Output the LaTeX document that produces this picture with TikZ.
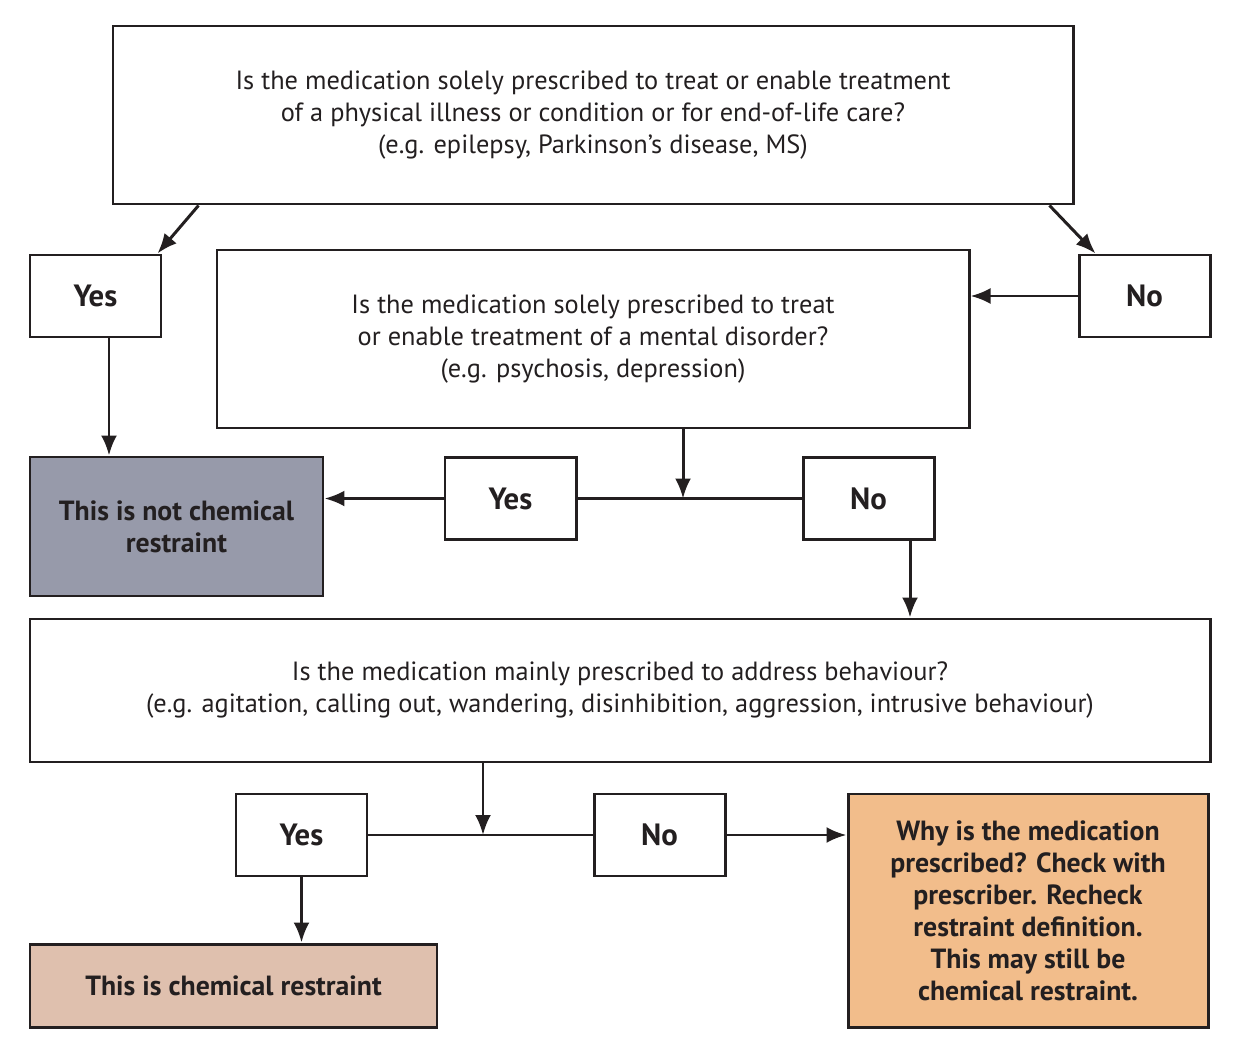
\documentclass[tikz,border=0pt]{standalone}
\usepackage{fontspec}
\setmainfont{PT Sans}
\usetikzlibrary{positioning, arrows.meta}

\definecolor{ink}{HTML}{231F20}
\definecolor{notfill}{HTML}{979AAA}
\definecolor{chemfill}{HTML}{DFC0AE}
\definecolor{whyfill}{HTML}{F2BD8B}

\begin{document}
\begin{tikzpicture}[
    box/.style={draw=ink, line width=1.7pt, rectangle, align=center, text=ink,
                font=\fontsize{15}{18.2}\selectfont},
    question/.style={box, minimum height=3.56cm},
    answer/.style={box, minimum width=2.62cm, minimum height=1.64cm,
                   font=\fontsize{17.5}{18}\selectfont\bfseries},
    outcome/.style={box, font=\fontsize{15.8}{18.2}\selectfont\bfseries},
    arr/.style={draw=ink, line width=1.7pt, -{Latex[length=4mm, width=3.2mm]}},
    line/.style={draw=ink, line width=1.7pt}
  ]
    \useasboundingbox (0,0) rectangle (25.08,-21.28);

    \node[question, minimum width=19.2cm] (q1) at (11.86,-2.30)
      {Is the medication solely prescribed to treat or enable treatment\\
       of a physical illness or condition or for end-of-life care?\\
       (e.g. epilepsy, Parkinson’s disease, MS)};
    \node[answer] (yes1) at (1.91,-5.92) {Yes};
    \node[answer] (no1) at (22.89,-5.92) {No};

    \node[question, minimum width=15.04cm] (q2) at (11.86,-6.78)
      {Is the medication solely prescribed to treat\\
       or enable treatment of a mental disorder?\\
       (e.g. psychosis, depression)};
    \node[outcome, fill=notfill, minimum width=5.86cm, minimum height=2.78cm]
      (notchem) at (3.53,-10.53) {This is not chemical\\restraint};
    \node[answer] (yes2) at (10.21,-9.97) {Yes};
    \node[answer] (no2) at (17.37,-9.97) {No};

    \node[question, minimum width=23.6cm, minimum height=2.86cm] (q3) at (12.40,-13.81)
      {Is the medication mainly prescribed to address behaviour?\\
       (e.g. agitation, calling out, wandering, disinhibition, aggression, intrusive behaviour)};
    \node[answer] (yes3) at (6.03,-16.70) {Yes};
    \node[answer] (no3) at (13.19,-16.70) {No};
    \node[outcome, fill=chemfill, minimum width=8.14cm, minimum height=1.66cm]
      (chem) at (4.67,-19.71) {This is chemical restraint};
    \node[outcome, fill=whyfill, minimum width=7.2cm, minimum height=4.66cm]
      (why) at (20.56,-18.21)
      {Why is the medication\\prescribed? Check with\\prescriber. Recheck\\
       restraint definition.\\This may still be\\chemical restraint.};

    % joints on the yes/no lines
    \coordinate (j2) at ([xshift=1.8cm]q2.south |- yes2.east);
    \coordinate (j3) at ([xshift=-2.74cm]q3.south |- yes3.east);

    \draw[arr] ([xshift=1.74cm]q1.south west) -- ([xshift=-0.1cm]yes1.north east);
    \draw[arr] ([xshift=-0.5cm]q1.south east) -- ([xshift=0.36cm]no1.north west);
    \draw[arr] ([xshift=0.27cm]yes1.south) -- ([xshift=0.27cm]yes1.south |- notchem.north);
    \draw[arr] (no1.west) -- (no1.west -| q2.east);

    \draw[line] (yes2) -- (no2);
    \draw[arr] ([xshift=1.8cm]q2.south) -- (j2);
    \draw[arr] (yes2.west) -- (yes2.west -| notchem.east);
    \draw[arr] ([xshift=0.83cm]no2.south) -- ([xshift=0.83cm]no2.south |- q3.north);

    \draw[line] (yes3) -- (no3);
    \draw[arr] ([xshift=-2.74cm]q3.south) -- (j3);
    \draw[arr] (yes3.south) -- (yes3.south |- chem.north);
    \draw[arr] (no3.east) -- (no3.east -| why.west);
\end{tikzpicture}
\end{document}
